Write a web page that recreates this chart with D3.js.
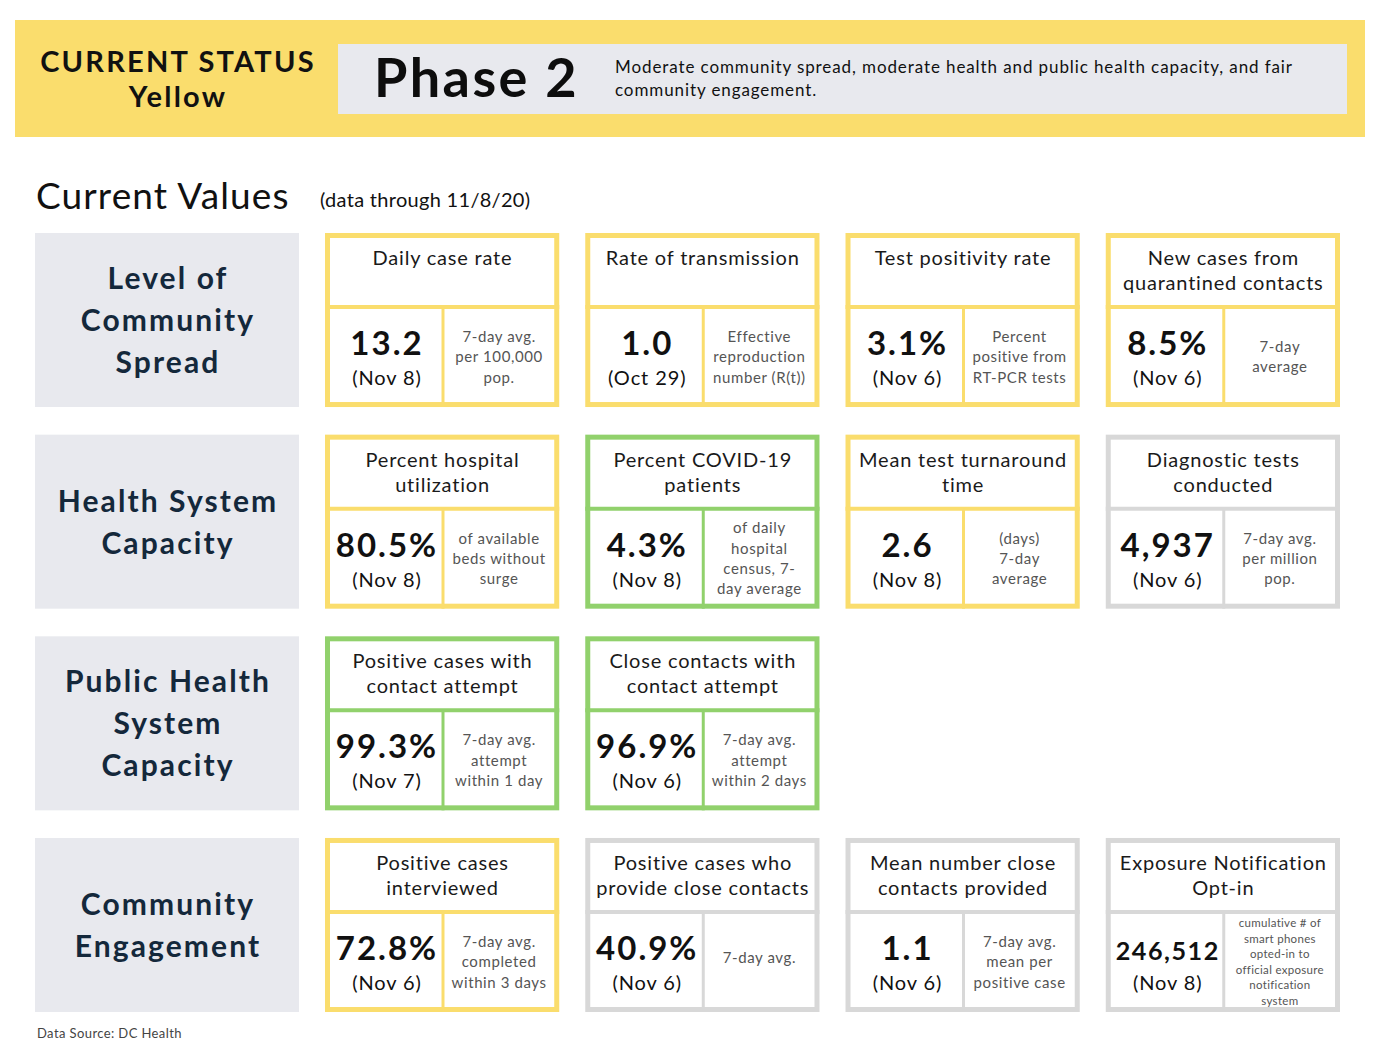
<!DOCTYPE html>
<html>
<head>
<meta charset="utf-8">
<script src="https://cdn.jsdelivr.net/npm/d3@7"></script>
<style>
body { margin: 0; background: white; }
svg text { font-family: Lato, "Noto Sans", sans-serif; }
</style>
</head>
<body>
<div id="chart"></div>
<script>
// ---- data ----
var phaseLabel = "Phase 2";
var statusLines = ["CURRENT STATUS", "Yellow"];
var phaseDesc = ["Moderate community spread, moderate health and public health capacity, and fair",
                 "community engagement."];

var rowNames = [["Level of", "Community", "Spread"],
                ["Health System", "Capacity"],
                ["Public Health", "System", "Capacity"],
                ["Community", "Engagement"]];

var cardRow = [0, 0, 0, 0, 1, 1, 1, 1, 2, 2, 3, 3, 3, 3];
var cardCol = [0, 1, 2, 3, 0, 1, 2, 3, 0, 1, 0, 1, 2, 3];

var cardTitles = [["Daily case rate"], ["Rate of transmission"], ["Test positivity rate"],
                  ["New cases from", "quarantined contacts"],
                  ["Percent hospital", "utilization"], ["Percent COVID-19", "patients"],
                  ["Mean test turnaround", "time"], ["Diagnostic tests", "conducted"],
                  ["Positive cases with", "contact attempt"], ["Close contacts with", "contact attempt"],
                  ["Positive cases", "interviewed"], ["Positive cases who", "provide close contacts"],
                  ["Mean number close", "contacts provided"], ["Exposure Notification", "Opt-in"]];

var cardValues = ["13.2", "1.0", "3.1%", "8.5%", "80.5%", "4.3%", "2.6", "4,937",
                  "99.3%", "96.9%", "72.8%", "40.9%", "1.1", "246,512"];

var cardDates = ["Nov 8", "Oct 29", "Nov 6", "Nov 6", "Nov 8", "Nov 8", "Nov 8", "Nov 6",
                 "Nov 7", "Nov 6", "Nov 6", "Nov 6", "Nov 6", "Nov 8"];

var cardNotes = [["7-day avg.", "per 100,000", "pop."],
                 ["Effective", "reproduction", "number (R(t))"],
                 ["Percent", "positive from", "RT-PCR tests"],
                 ["7-day", "average"],
                 ["of available", "beds without", "surge"],
                 ["of daily", "hospital", "census, 7-", "day average"],
                 ["(days)", "7-day", "average"],
                 ["7-day avg.", "per million", "pop."],
                 ["7-day avg.", "attempt", "within 1 day"],
                 ["7-day avg.", "attempt", "within 2 days"],
                 ["7-day avg.", "completed", "within 3 days"],
                 ["7-day avg."],
                 ["7-day avg.", "mean per", "positive case"],
                 ["cumulative # of", "smart phones", "opted-in to", "official exposure", "notification", "system"]];

var cardStatus = ["yellow", "yellow", "yellow", "yellow",
                  "yellow", "green", "yellow", "grey",
                  "green", "green",
                  "yellow", "grey", "grey", "grey"];

// ---- layout ----
var W = 1380, H = 1052;
var svg = d3.select("#chart").append("svg")
  .attr("width", W)
  .attr("height", H);

var statusColor = d3.scaleOrdinal()
  .domain(["yellow", "green", "grey"])
  .range(["#fadd6d", "#91d16c", "#d8d8d8"]);

var x = d3.scaleBand().domain(d3.range(4)).range([325, 1340]).paddingInner(0.1);
var y = d3.scaleBand().domain(d3.range(rowNames.length)).range([233, 1012]).paddingInner(0.137);

// header banner
svg.append("rect").attr("x", 15).attr("y", 20).attr("width", 1350).attr("height", 117)
  .attr("fill", "#fadd6d");
svg.append("rect").attr("x", 338).attr("y", 44).attr("width", 1009).attr("height", 70)
  .attr("fill", "#e8e9ee");

svg.selectAll(".status").data(statusLines).enter().append("text")
  .attr("x", 178)
  .attr("y", function(d, i) { return 72 + i * 35; })
  .attr("text-anchor", "middle")
  .attr("font-size", 29)
  .attr("font-weight", 700)
  .attr("letter-spacing", 2.2)
  .attr("fill", "#111")
  .text(function(d) { return d; });

svg.append("text").attr("x", 374).attr("y", 97)
  .attr("font-size", 54).attr("font-weight", 700).attr("fill", "#0d0d0d")
  .attr("letter-spacing", 2.4)
  .text(phaseLabel);

svg.selectAll(".desc").data(phaseDesc).enter().append("text")
  .attr("x", 615)
  .attr("y", function(d, i) { return 73 + i * 23; })
  .attr("font-size", 17)
  .attr("letter-spacing", 0.9)
  .attr("fill", "#111")
  .text(function(d) { return d; });

svg.append("text").attr("x", 36).attr("y", 209)
  .attr("font-size", 37).attr("fill", "#111")
  .attr("letter-spacing", 1.1)
  .text("Current Values");
svg.append("text").attr("x", 320).attr("y", 207)
  .attr("font-size", 20).attr("fill", "#111")
  .attr("letter-spacing", 0.3)
  .text("(data through 11/8/20)");

// row labels
var rows = svg.selectAll(".rowlabel").data(rowNames).enter().append("g")
  .attr("transform", function(d, i) { return "translate(35," + y(i) + ")"; });

rows.append("rect")
  .attr("width", 264)
  .attr("height", y.bandwidth())
  .attr("fill", "#e8e9ee");

rows.each(function(lines) {
  var g = d3.select(this);
  var h = y.bandwidth();
  var lh = 42;
  var top = h / 2 - (lines.length - 1) * lh / 2;
  g.selectAll("text").data(lines).enter().append("text")
    .attr("x", 133)
    .attr("y", function(d, i) { return top + i * lh + 11; })
    .attr("text-anchor", "middle")
    .attr("font-size", 30)
    .attr("font-weight", 700)
    .attr("letter-spacing", 2.1)
    .attr("fill", "#14283b")
    .text(function(d) { return d; });
});

// cards
var cards = svg.selectAll(".card").data(cardValues).enter().append("g")
  .attr("class", "card")
  .attr("transform", function(d, i) { return "translate(" + x(cardCol[i]) + "," + y(cardRow[i]) + ")"; });

var cw = x.bandwidth(), ch = y.bandwidth();
var splitY = 74, splitX = 118;

cards.append("rect")
  .attr("x", 2.5).attr("y", 2.5)
  .attr("width", cw - 5).attr("height", ch - 5)
  .attr("fill", "white")
  .attr("stroke", function(d, i) { return statusColor(cardStatus[i]); })
  .attr("stroke-width", 5);

cards.append("line")
  .attr("x1", 0).attr("x2", cw)
  .attr("y1", splitY).attr("y2", splitY)
  .attr("stroke", function(d, i) { return statusColor(cardStatus[i]); })
  .attr("stroke-width", 4);

cards.append("line")
  .attr("x1", splitX).attr("x2", splitX)
  .attr("y1", splitY).attr("y2", ch)
  .attr("stroke", function(d, i) { return statusColor(cardStatus[i]); })
  .attr("stroke-width", 3);

cards.each(function(val, i) {
  var g = d3.select(this);

  // title
  g.selectAll(".title").data(cardTitles[i]).enter().append("text")
    .attr("x", cw / 2 + 0.4)
    .attr("y", function(d, j) { return 32 + j * 25; })
    .attr("text-anchor", "middle")
    .attr("font-size", 20)
    .attr("letter-spacing", 0.8)
    .attr("fill", "#1a1a1a")
    .text(function(d) { return d; });

  // value
  var v = g.append("text")
    .attr("x", 62)
    .attr("y", 122)
    .attr("text-anchor", "middle")
    .attr("font-size", 33)
    .attr("font-weight", 700)
    .attr("letter-spacing", 2)
    .attr("fill", "#111")
    .text(val);
  var len = v.node().getComputedTextLength();
  if (len > 104) v.attr("font-size", 33 * 104 / len).attr("letter-spacing", 2 * 104 / len);

  g.append("text")
    .attr("x", 62)
    .attr("y", 152)
    .attr("text-anchor", "middle")
    .attr("font-size", 20)
    .attr("letter-spacing", 0.9)
    .attr("fill", "#111")
    .text("(" + cardDates[i] + ")");

  // note
  var notes = cardNotes[i];
  var small = notes.length > 4;
  var lh = small ? 15.5 : 20.3;
  var fs = small ? 11.5 : 15;
  var mid = (splitY + ch) / 2 + (notes.length == 1 ? -4 : 0);
  var top = mid - (notes.length - 1) * lh / 2;
  g.selectAll(".note").data(notes).enter().append("text")
    .attr("x", splitX + (cw - splitX) / 2 - 2)
    .attr("y", function(d, j) { return top + j * lh + fs * 0.35; })
    .attr("text-anchor", "middle")
    .attr("font-size", fs)
    .attr("letter-spacing", small ? 0.3 : 0.6)
    .attr("fill", "#555")
    .text(function(d) { return d; });
});

svg.append("text").attr("x", 37).attr("y", 1038)
  .attr("font-size", 13).attr("fill", "#444")
  .attr("letter-spacing", 0.4)
  .text("Data Source: DC Health");
</script>
</body>
</html>
